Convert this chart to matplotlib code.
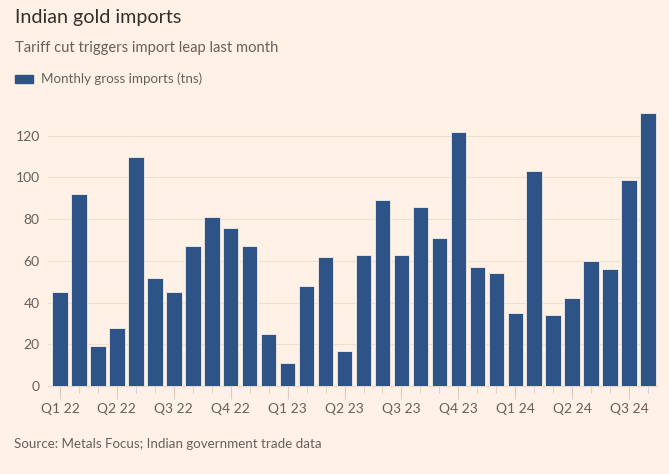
import matplotlib
matplotlib.use("Agg")
import matplotlib.pyplot as plt
import numpy as np

# monthly gross gold imports, Jan 2022 - Aug 2024 (tonnes)
imports = [45, 92, 19, 28, 110, 52, 45, 67, 81, 76, 67, 25,
           11, 48, 62, 17, 63, 89, 63, 86, 71, 122, 57, 54,
           35, 103, 34, 42, 60, 56, 99, 131]
quarter_labels = ["Q1 22", "Q2 22", "Q3 22", "Q4 22", "Q1 23", "Q2 23",
                  "Q3 23", "Q4 23", "Q1 24", "Q2 24", "Q3 24"]
y_ticks = [0, 20, 40, 60, 80, 100, 120]

bg = "#FFF1E5"
bar_col = "#2E5387"
txt = "#66605C"

plt.rcParams['font.family'] = ['Lato', 'DejaVu Sans']

W, H = 669, 474
fig = plt.figure(figsize=(W / 100, H / 100), dpi=100, facecolor=bg)

# axes placed in pixel terms: y=0 at 386px, 2.085 px per tonne
ymax = 135
px_per = 2.085
ax_left, ax_right = 48, 657
ax_bottom = H - 386
ax = fig.add_axes([ax_left / W, ax_bottom / H, (ax_right - ax_left) / W, ymax * px_per / H])
ax.set_facecolor(bg)

x = np.arange(len(imports))
ax.bar(x, imports, width=0.82, color=bar_col, edgecolor="#f4ede6", linewidth=0.6, zorder=3)

ax.set_xlim(-0.63, 31.47)
ax.set_ylim(0, ymax)

ax.set_yticks(y_ticks)
ax.set_yticklabels([str(v) for v in y_ticks])
ax.grid(axis="y", color="#EFDFD0", linewidth=0.8, zorder=0)
ax.tick_params(axis="y", length=0, labelsize=10, labelcolor=txt, pad=6)

# ticks for every month, longer ones at quarter starts with labels
ax.set_xticks(x[::3])
ax.set_xticklabels(quarter_labels)
ax.set_xticks(x, minor=True)
ax.tick_params(axis="x", which="major", length=9, color="#D9CCC1", labelsize=10,
               labelcolor=txt, pad=3)
ax.tick_params(axis="x", which="minor", length=5, color="#D9CCC1")

for s in ["top", "right", "left"]:
    ax.spines[s].set_visible(False)
ax.spines["bottom"].set_color("#E6D8CB")
ax.spines["bottom"].set_linewidth(0.8)

fig.text(15 / W, 1 - 17 / H, "Indian gold imports", fontsize=14.2, color="#33302E", va="center")
fig.text(15 / W, 1 - 48 / H, "Tariff cut triggers import leap last month", fontsize=10.6,
         color=txt, va="center")
fig.patches.append(plt.Rectangle((15 / W, 1 - 83 / H), 18 / W, 8 / H,
                                 transform=fig.transFigure, color=bar_col))
fig.text(41 / W, 1 - 79 / H, "Monthly gross imports (tns)", fontsize=9.6, color=txt, va="center")
fig.text(14 / W, 1 - 444 / H, "Source: Metals Focus; Indian government trade data",
         fontsize=9.6, color=txt, va="center")

fig.savefig("out.png", dpi=100, facecolor=bg)
